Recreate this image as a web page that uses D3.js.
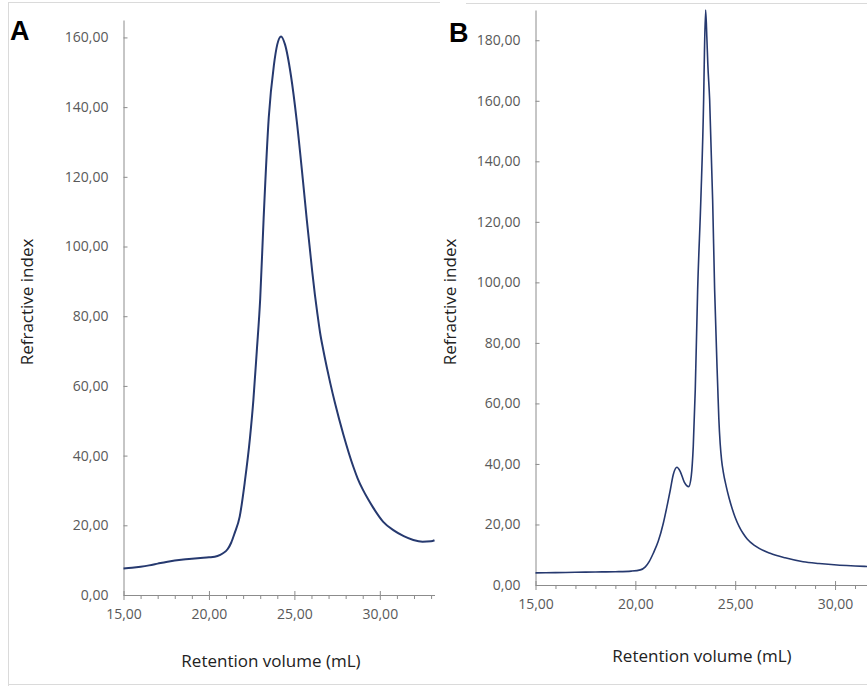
<!DOCTYPE html>
<html>
<head>
<meta charset="utf-8">
<script src="https://cdn.jsdelivr.net/npm/d3@7"></script>
<style>
  body { margin: 0; background: #fff; }
  svg { display: block; font-family: "Open Sans", sans-serif; }
</style>
</head>
<body>
<div class="canvas"></div>
<script>
// panel A - retention volume (mL) vs refractive index
const volA = [15.0, 15.5, 16.0, 16.5, 17.0, 17.5, 18.0, 18.5, 19.0, 19.5, 20.0, 20.5, 20.8, 21.1, 21.3, 21.5,
              21.8, 22.1, 22.4, 22.6, 22.8, 23.0, 23.2, 23.5, 23.8, 24.0, 24.22, 24.45, 24.8, 25.14, 25.5,
              25.73, 25.9, 26.05, 26.2, 26.35, 26.5, 26.7, 26.9, 27.1, 27.38, 27.87, 28.45, 28.7, 29.0,
              29.3, 29.62, 30.2, 30.79, 31.4, 31.96, 32.5, 33.0, 33.2]
const riA  = [7.6, 7.8, 8.1, 8.5, 9.0, 9.5, 9.9, 10.2, 10.4, 10.6, 10.8, 11.2, 11.9, 13.2, 15.0, 17.7,
              22.5, 32.5, 45, 55.9, 70, 85, 108, 137, 152, 158, 160.3, 158, 149, 136, 119,
              107.5, 99.6, 92.6, 86.2, 80.6, 75.4, 70.1, 65.3, 60.8, 55.0, 46.0, 36.8, 33.5, 30.3,
              27.6, 25.0, 21.0, 18.6, 16.9, 15.8, 15.3, 15.4, 15.7]

// panel B
const volB = [15.0, 16.0, 17.0, 18.0, 19.0, 19.8, 20.25, 20.5, 20.7, 20.9, 21.15, 21.4, 21.6, 21.75, 21.9,
              22.08, 22.25, 22.45, 22.67, 22.8, 22.9, 23.0, 23.12, 23.28, 23.42, 23.46, 23.52, 23.58, 23.63,
              23.72, 23.87, 23.97, 24.13, 24.18, 24.25, 24.32, 24.4, 24.55, 24.7, 24.85, 25.0, 25.2, 25.4,
              25.6, 26.0, 26.75, 27.5, 28.4, 29.2, 30.1, 31.0, 31.7]
const riB  = [4.0, 4.1, 4.2, 4.3, 4.4, 4.6, 5.0, 6.0, 7.8, 10.5, 14.5, 20.4, 26.5, 31.4, 36.5,
              38.9, 37.5, 34, 32.5, 36, 45.8, 64.5, 97.6, 127.4, 160.5, 176, 190, 181, 172,
              160.5, 127.4, 97.6, 64.5, 55, 46.5, 41.2, 37.5, 32.6, 28.6, 25.2, 22.3, 19.3, 17.0,
              15.2, 12.9, 10.5, 9.0, 7.7, 7.1, 6.6, 6.3, 6.1]

const majorX = [15, 20, 25, 30]
const yTicksA = [0, 20, 40, 60, 80, 100, 120, 140, 160]
const yTicksB = [0, 20, 40, 60, 80, 100, 120, 140, 160, 180]

const lineColor = '#26396f'
const axisColor = '#8c8c8c'
const fmt = v => d3.format('.2f')(v).replace('.', ',')

const svg = d3.select('.canvas')
              .append('svg')
              .attr('width', 867)
              .attr('height', 686)

// faint frame lines of the figure
const frame = [
  [8.5, 2, 8.5, 686],
  [8, 2.5, 440, 2.5],
  [466, 3.5, 867, 3.5],
  [8, 684.5, 867, 684.5]
]
svg.selectAll('.frame')
   .data(frame)
   .enter()
   .append('line')
   .attr('class', 'frame')
   .attr('x1', d => d[0]).attr('y1', d => d[1])
   .attr('x2', d => d[2]).attr('y2', d => d[3])
   .attr('stroke', '#dadada')

const panels = [
  { letter: 'A', lx: 10, ly: 40, vol: volA, ri: riA, yTicks: yTicksA,
    xDom: [15, 33.2], xRange: [123.5, 434.5], yDom: [0, 165], yRange: [595, 20],
    ylx: 33, yly: 302, xlx: 271, xly: 667, width: 2 },
  { letter: 'B', lx: 449, ly: 42, vol: volB, ri: riB, yTicks: yTicksB,
    xDom: [15, 31.7], xRange: [535.5, 869], yDom: [0, 190], yRange: [585, 10],
    ylx: 456, yly: 302, xlx: 702, xly: 662, width: 1.6 }
]

panels.forEach(p => {
  const x = d3.scaleLinear().domain(p.xDom).range(p.xRange)
  const y = d3.scaleLinear().domain(p.yDom).range(p.yRange)
  const g = svg.append('g')

  // y axis, ticks pointing inward
  const yAxis = g.append('g')
                 .attr('transform', `translate(${p.xRange[0]},0)`)
                 .call(d3.axisLeft(y).tickValues(p.yTicks).tickFormat(fmt)
                         .tickSize(-4).tickSizeOuter(0).tickPadding(15))
  yAxis.select('.domain').attr('stroke', axisColor)
  yAxis.selectAll('line').attr('stroke', axisColor)
  yAxis.selectAll('text').attr('fill', '#595959').attr('font-size', 14)
       .attr('font-family', '"Open Sans", sans-serif')

  // x axis minor ticks
  const minor = d3.range(Math.ceil(p.xDom[0]), Math.floor(p.xDom[1]) + 1)
                  .filter(v => !majorX.includes(v))
  const xMinor = g.append('g')
                  .attr('transform', `translate(0,${p.yRange[0]})`)
                  .call(d3.axisBottom(x).tickValues(minor).tickFormat('')
                          .tickSize(4).tickSizeOuter(0))
  xMinor.select('.domain').attr('stroke', axisColor)
  xMinor.selectAll('line').attr('stroke', axisColor)

  // x axis major ticks (crossing the axis)
  const xMajor = g.append('g')
                  .attr('transform', `translate(0,${p.yRange[0]})`)
                  .call(d3.axisBottom(x).tickValues(majorX).tickFormat(fmt)
                          .tickSize(5).tickSizeOuter(0).tickPadding(9))
  xMajor.select('.domain').remove()
  xMajor.selectAll('line').attr('stroke', axisColor).attr('y1', -4)
  xMajor.selectAll('text').attr('fill', '#595959').attr('font-size', 14)
        .attr('font-family', '"Open Sans", sans-serif')

  // trace
  const line = d3.line()
                 .x(d => x(d[0]))
                 .y(d => y(d[1]))
                 .curve(d3.curveMonotoneX)
  g.append('path')
   .datum(p.vol.map((v, i) => [v, p.ri[i]]))
   .attr('fill', 'none')
   .attr('stroke', lineColor)
   .attr('stroke-width', p.width)
   .attr('d', line)

  // titles
  g.append('text')
   .attr('transform', `translate(${p.ylx},${p.yly}) rotate(-90)`)
   .attr('text-anchor', 'middle')
   .attr('font-size', 17)
   .attr('fill', '#222')
   .text('Refractive index')
  g.append('text')
   .attr('x', p.xlx).attr('y', p.xly)
   .attr('text-anchor', 'middle')
   .attr('font-size', 17)
   .attr('fill', '#222')
   .text('Retention volume (mL)')

  svg.append('text')
     .attr('x', p.lx).attr('y', p.ly)
     .attr('font-family', '"Liberation Sans", Arial, sans-serif')
     .attr('font-weight', 'bold')
     .attr('font-size', 27)
     .attr('fill', '#000')
     .text(p.letter)
})
</script>
</body>
</html>
